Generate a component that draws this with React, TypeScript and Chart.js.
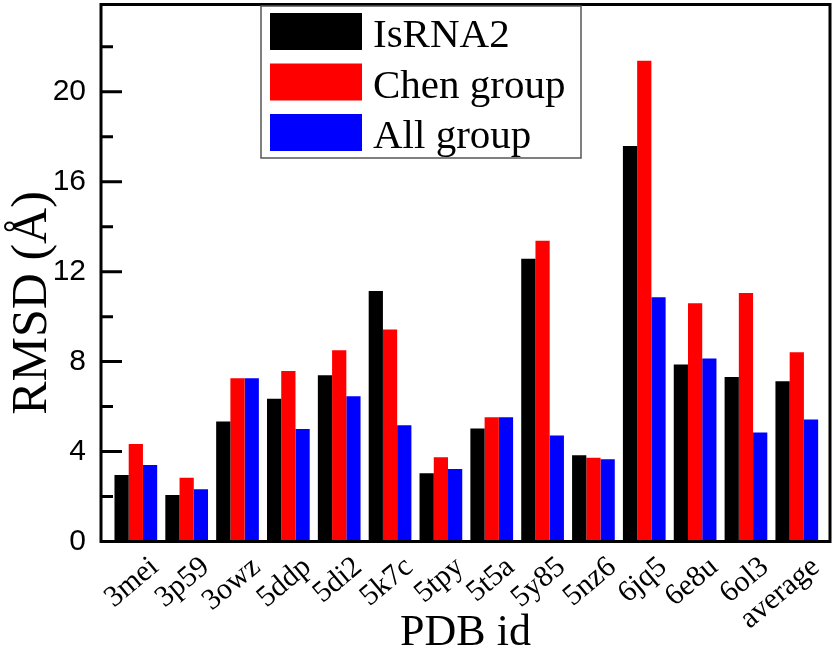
import React, { useEffect, useRef } from 'react';
import { Chart, registerables } from 'chart.js';

Chart.register(...registerables);

const categories = ['3mei', '3p59', '3owz', '5ddp', '5di2', '5k7c', '5tpy', '5t5a', '5y85', '5nz6', '6jq5', '6e8u', '6ol3', 'average'];
const isrna2 = [2.96, 2.07, 5.34, 6.35, 7.39, 11.14, 3.03, 5.02, 12.57, 3.84, 17.59, 7.87, 7.31, 7.13];
const chenGroup = [4.34, 2.84, 7.26, 7.58, 8.51, 9.43, 3.75, 5.53, 13.37, 3.72, 21.38, 10.59, 11.05, 8.42];
const allGroup = [3.40, 2.32, 7.26, 5.00, 6.46, 5.17, 3.22, 5.53, 4.71, 3.66, 10.86, 8.14, 4.85, 5.42];
const seriesNames = ['IsRNA2', 'Chen group', 'All group'];
const yMajorTicks = [0, 4, 8, 12, 16, 20];
const yMinorTicks = [2, 6, 10, 14, 18, 22];
const xTitle = 'PDB id';
const yTitle = 'RMSD (Å)';

const SERIF = '"Liberation Serif", "Times New Roman", serif';
const SANS = '"Liberation Sans", Arial, sans-serif';

const decorPlugin = {
  id: 'decor',
  afterDraw(chart: any) {
    const { ctx, chartArea: a, scales } = chart;
    const y = scales.y;
    ctx.save();
    // frame
    ctx.strokeStyle = '#000';
    ctx.lineWidth = 3;
    ctx.strokeRect(a.left, a.top, a.right - a.left, a.bottom - a.top);
    // inward ticks
    ctx.beginPath();
    for (const v of yMajorTicks) {
      const py = y.getPixelForValue(v);
      ctx.moveTo(a.left, py);
      ctx.lineTo(a.left + 21, py);
    }
    for (const v of yMinorTicks) {
      const py = y.getPixelForValue(v);
      ctx.moveTo(a.left, py);
      ctx.lineTo(a.left + 12, py);
    }
    ctx.stroke();

    // legend
    ctx.lineWidth = 1.5;
    ctx.strokeStyle = '#555';
    ctx.strokeRect(261, 6, 320, 152);
    const ds = chart.data.datasets;
    ctx.font = '41px ' + SERIF;
    ctx.textAlign = 'left';
    ctx.textBaseline = 'alphabetic';
    ds.forEach((d: any, i: number) => {
      const top = 13 + i * 50.5;
      ctx.fillStyle = d.backgroundColor;
      ctx.fillRect(270, top, 92, 37);
      ctx.fillStyle = '#000';
      ctx.fillText(d.label, 373, top + 34);
    });

    // axis titles
    ctx.fillStyle = '#000';
    ctx.font = '44px ' + SERIF;
    ctx.textAlign = 'center';
    ctx.fillText(xTitle, (a.left + a.right) / 2, 645);
    ctx.save();
    ctx.translate(45.5, 303);
    ctx.rotate(-Math.PI / 2);
    ctx.font = '50px ' + SERIF;
    ctx.fillText(yTitle, 0, 0);
    ctx.restore();
    ctx.restore();
  },
};

export default function App() {
  const ref = useRef<HTMLCanvasElement | null>(null);

  useEffect(() => {
    document.body.style.margin = '0';
    const canvas = ref.current;
    if (!canvas) return;
    const toPts = (arr: number[]) => arr.map((v, i) => ({ x: i, y: v }));
    const chart = new Chart(canvas, {
      type: 'bar',
      data: {
        datasets: [
          { label: seriesNames[0], data: toPts(isrna2), backgroundColor: '#000000' },
          { label: seriesNames[1], data: toPts(chenGroup), backgroundColor: '#ff0000' },
          { label: seriesNames[2], data: toPts(allGroup), backgroundColor: '#0000ff' },
        ],
      },
      options: {
        responsive: false,
        animation: false,
        devicePixelRatio: 1,
        layout: { padding: { top: 4.5, right: 7, bottom: 0, left: 0 } },
        datasets: { bar: { categoryPercentage: 0.84, barPercentage: 1.0, borderWidth: 0 } },
        plugins: { legend: { display: false }, tooltip: { enabled: false } },
        scales: {
          x: {
            type: 'linear',
            min: -0.685,
            max: 13.653,
            offset: false,
            grid: { display: false },
            border: { display: false },
            afterBuildTicks: (s: any) => {
              s.ticks = categories.map((_, i) => ({ value: i }));
            },
            afterFit: (s: any) => {
              s.height = 112.5;
              s.paddingLeft = 0;
              s.paddingRight = 0;
              s.paddingTop = 0;
              s.paddingBottom = 0;
            },
            ticks: {
              autoSkip: false,
              minRotation: 40,
              maxRotation: 40,
              padding: 0,
              labelOffset: 19,
              color: '#000',
              font: { family: SERIF, size: 30 },
              callback: (v: any) => categories[v as number] ?? '',
            },
          },
          y: {
            type: 'linear',
            min: 0,
            max: 23.88,
            grid: { display: false },
            border: { display: false },
            afterBuildTicks: (s: any) => {
              s.ticks = yMajorTicks.map((v) => ({ value: v }));
            },
            afterFit: (s: any) => {
              s.width = 101;
              s.paddingLeft = 0;
              s.paddingRight = 0;
              s.paddingTop = 0;
              s.paddingBottom = 0;
            },
            ticks: {
              padding: 7,
              color: '#000',
              font: { family: SANS, size: 30 },
            },
          },
        },
      },
      plugins: [decorPlugin],
    } as any);
    return () => chart.destroy();
  }, []);

  return (
    <div style={{ width: 837, height: 654, background: '#fff' }}>
      <canvas ref={ref} width={837} height={654} style={{ display: 'block' }} />
    </div>
  );
}
